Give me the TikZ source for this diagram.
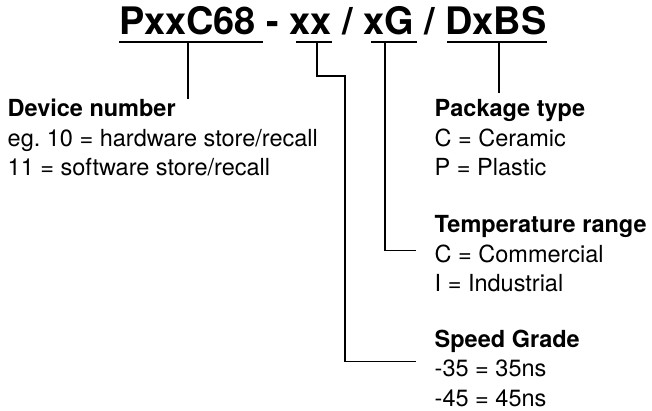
\documentclass[tikz,border=0pt]{standalone}
\usepackage{fontspec}
\setmainfont{TeX Gyre Heros}
\usetikzlibrary{positioning}
\frenchspacing

\begin{document}
\begin{tikzpicture}[x=1pt, y=-1pt,
    code/.style={font=\fontsize{37.9}{40}\selectfont\bfseries, inner sep=0pt, anchor=base west},
    info/.style={font=\fontsize{23.5}{29.5}\selectfont, align=left, inner sep=0pt, anchor=base west},
    uline/.style={line width=1.1pt},
    lead/.style={line width=1.1pt}]
  \useasboundingbox (0,0) rectangle (652,411);

  % Define nodes (base = last line)
  \node[code] (title) at (118.8,35) {PxxC68 - xx / xG / DxBS};
  \node[info] (dev) at (7.5,176) {\textbf{Device number}\\eg. 10 = hardware store/recall\\11 = software store/recall};
  \node[info] (pkg) at (434.5,175.7) {\textbf{Package type}\\C = Ceramic\\P = Plastic};
  \node[info, below=116pt of pkg.base west, anchor=base west] (tmp) {\textbf{Temperature range}\\C = Commercial\\I = Industrial};
  \node[info, below=114.3pt of tmp.base west, anchor=base west] (spd) {\textbf{Speed Grade}\\-35 = 35ns\\-45 = 45ns};

  % Underlines and taps
  \foreach \a/\b in {119/263, 296/332, 371/417, 447/547}
    \draw[uline] (\a,42) -- (\b,42);
  \coordinate (devtap) at (188,42);
  \coordinate (spdtap) at (317,42);
  \coordinate (tmptap) at (385,42);
  \coordinate (pkgtap) at (499,42);
  \coordinate (spdbend) at (345,76);
  \coordinate (spdend) at ([shift={(-18.5,-44.3)}]spd.base west);
  \coordinate (tmpend) at ([shift={(-18.5,-41)}]tmp.base west);

  % Connect the nodes
  \draw[lead] (devtap) -- (devtap |- dev.north);
  \draw[lead] (pkgtap) -- ([yshift=6.6pt]pkgtap |- pkg.north);
  \draw[lead] (tmptap) |- (tmpend);
  \draw[lead] (spdtap) |- (spdbend) |- (spdend);
\end{tikzpicture}
\end{document}
